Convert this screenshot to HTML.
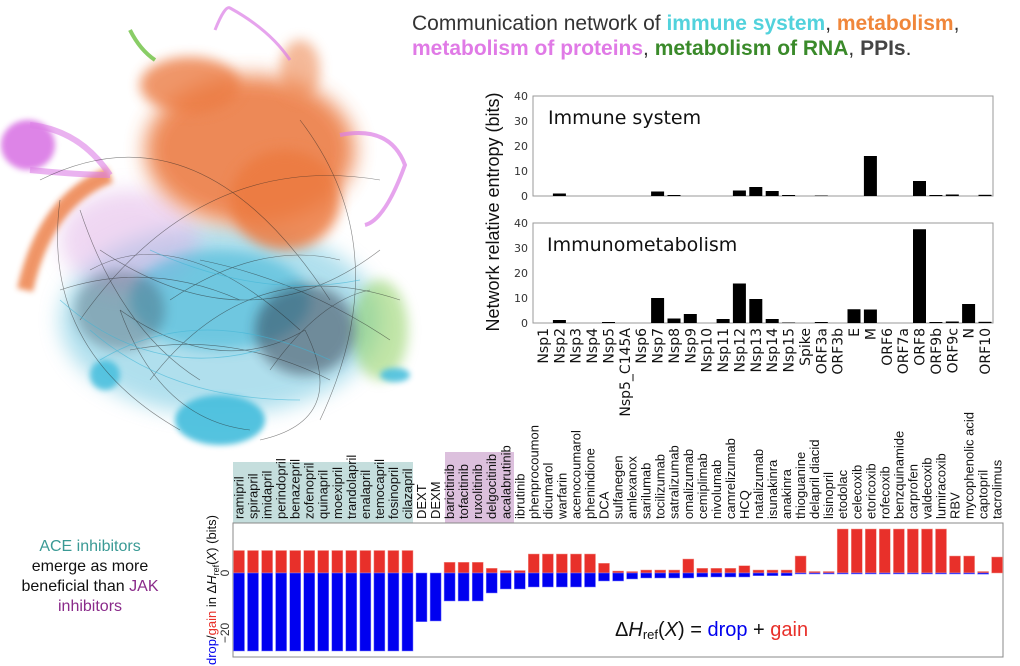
<!DOCTYPE html>
<html><head><meta charset="utf-8"><style>
html,body{margin:0;padding:0;background:#fff;}
body{width:1020px;height:666px;overflow:hidden;position:relative;font-family:"Liberation Sans",sans-serif;}
</style></head><body>
<svg width="1020" height="666" viewBox="0 0 1020 666" xmlns="http://www.w3.org/2000/svg" style="position:absolute;left:0;top:0">
<defs>
<filter id="b6" x="-50%" y="-50%" width="200%" height="200%"><feGaussianBlur stdDeviation="6"/></filter>
<filter id="b3" x="-50%" y="-50%" width="200%" height="200%"><feGaussianBlur stdDeviation="3"/></filter>
<filter id="b12" x="-50%" y="-50%" width="200%" height="200%"><feGaussianBlur stdDeviation="10"/></filter>
</defs>
<!-- network -->
<g>
<ellipse cx="220" cy="320" rx="160" ry="95" fill="#7ccbe2" opacity="0.6" filter="url(#b12)"/>
<ellipse cx="130" cy="240" rx="70" ry="50" fill="#e0b0e6" opacity="0.5" filter="url(#b12)"/>
<ellipse cx="250" cy="150" rx="105" ry="75" fill="#ec7d45" opacity="0.9" filter="url(#b12)"/>
<ellipse cx="190" cy="85" rx="50" ry="28" fill="#ec7d45" opacity="0.8" filter="url(#b6)"/>
<ellipse cx="285" cy="200" rx="55" ry="50" fill="#ec7a40" opacity="0.85" filter="url(#b6)"/>
<ellipse cx="300" cy="70" rx="20" ry="30" fill="#ee8a55" opacity="0.6" filter="url(#b6)"/>
<path d="M25 290 Q45 200 110 175" stroke="#ec7a40" stroke-width="16" fill="none" opacity="0.8" filter="url(#b3)"/>
<ellipse cx="28" cy="145" rx="27" ry="25" fill="#dc7ee6" opacity="0.95" filter="url(#b3)"/>
<path d="M30 125 Q80 130 110 175 M30 170 Q80 175 110 175" stroke="#dc7ee6" stroke-width="6" fill="none" opacity="0.6"/>
<path d="M340 135 Q390 125 405 165 Q385 220 365 225" stroke="#dc7ee6" stroke-width="4" fill="none" opacity="0.7"/>
<path d="M215 30 Q225 5 230 8 Q270 30 290 60" stroke="#dc7ee6" stroke-width="3" fill="none" opacity="0.7"/>
<path d="M130 30 Q140 50 155 60" stroke="#6cc040" stroke-width="4" fill="none" opacity="0.8"/>
<ellipse cx="380" cy="330" rx="28" ry="50" fill="#8fd060" opacity="0.55" filter="url(#b6)"/>
<ellipse cx="220" cy="300" rx="90" ry="50" fill="#45b8d8" opacity="0.6" filter="url(#b6)"/>
<ellipse cx="220" cy="420" rx="45" ry="25" fill="#4cc0de" opacity="0.95" filter="url(#b3)"/>
<ellipse cx="105" cy="375" rx="15" ry="15" fill="#4cc0de" opacity="0.9" filter="url(#b3)"/>
<ellipse cx="395" cy="375" rx="15" ry="7" fill="#4cc0de" opacity="0.9" filter="url(#b3)"/>
<ellipse cx="120" cy="310" rx="45" ry="40" fill="#3a4a5a" opacity="0.35" filter="url(#b6)"/>
<ellipse cx="305" cy="330" rx="50" ry="45" fill="#202838" opacity="0.45" filter="url(#b6)"/>
<g stroke="#222" stroke-width="0.6" fill="none" opacity="0.55">
<path d="M40 180 Q200 100 330 300"/><path d="M80 320 Q200 150 380 180"/><path d="M100 250 Q250 350 380 250"/><path d="M120 310 Q220 380 305 330"/><path d="M60 200 Q40 350 180 430"/><path d="M300 120 Q400 250 320 420"/><path d="M150 380 Q250 250 400 300"/>
<path d="M90 270 Q180 220 300 330"/><path d="M120 310 Q160 420 250 430"/><path d="M305 330 Q350 420 260 440"/><path d="M60 290 Q150 260 240 300"/><path d="M200 260 Q300 280 390 340"/><path d="M130 350 Q230 330 330 380"/><path d="M170 300 Q260 240 340 260"/><path d="M80 210 Q120 330 200 380"/><path d="M270 370 Q320 300 370 290"/>
</g>
<g stroke="#3fb5d6" stroke-width="0.8" fill="none" opacity="0.6">
<path d="M60 300 Q150 380 260 350"/><path d="M100 360 Q200 300 330 360"/><path d="M150 250 Q260 300 360 280"/><path d="M90 330 Q170 400 300 400"/>
</g>
</g>
<!-- title -->
<text x="412" y="30" font-size="21" fill="#333">Communication network of <tspan fill="#52d2dc" font-weight="bold">immune system</tspan>, <tspan fill="#f0863a" font-weight="bold">metabolism</tspan>,</text>
<text x="412" y="55" font-size="21" fill="#333"><tspan fill="#e07ae6" font-weight="bold">metabolism of proteins</tspan>, <tspan fill="#3a8a2a" font-weight="bold">metabolism of RNA</tspan>, <tspan font-weight="bold" fill="#444">PPIs</tspan>.</text>

<!-- top chart -->
<g font-family="DejaVu Sans, sans-serif">
<rect x="533" y="96" width="460" height="100" fill="none" stroke="#999"/>
<rect x="533" y="223" width="460" height="100" fill="none" stroke="#999"/>
<g font-size="11" fill="#333" text-anchor="end">
<text x="528" y="100">40</text><text x="528" y="125">30</text><text x="528" y="150">20</text><text x="528" y="175">10</text><text x="528" y="200">0</text>
<text x="528" y="227">40</text><text x="528" y="252">30</text><text x="528" y="277">20</text><text x="528" y="302">10</text><text x="528" y="327">0</text>
</g>
<text x="548" y="124" font-size="19" fill="#111">Immune system</text>
<text x="547" y="251" font-size="19" fill="#111">Immunometabolism</text>
<text transform="translate(499,212) rotate(-90)" font-family="Liberation Sans, sans-serif" font-size="18" text-anchor="middle" fill="#111">Network relative entropy (bits)</text>
<g fill="#000">
<rect x="552.9" y="193.5" width="13" height="2.5"/>
<rect x="651.1" y="191.5" width="13" height="4.5"/>
<rect x="667.5" y="195" width="13" height="1"/>
<rect x="732.9" y="190.5" width="13" height="5.5"/>
<rect x="749.3" y="187" width="13" height="9"/>
<rect x="765.7" y="191" width="13" height="5"/>
<rect x="782.1" y="195" width="13" height="1"/>
<rect x="814.8" y="195.5" width="13" height="0.5"/>
<rect x="863.9" y="156" width="13" height="40"/>
<rect x="913" y="181" width="13" height="15"/>
<rect x="929.4" y="195" width="13" height="1"/>
<rect x="945.8" y="194.5" width="13" height="1.5"/>
<rect x="978.5" y="194.8" width="13" height="1.2"/>

<rect x="552.9" y="320" width="13" height="3"/>
<rect x="602" y="322" width="13" height="1"/>
<rect x="651.1" y="298" width="13" height="25"/>
<rect x="667.5" y="318.5" width="13" height="4.5"/>
<rect x="683.8" y="314" width="13" height="9"/>
<rect x="716.6" y="319" width="13" height="4"/>
<rect x="732.9" y="283.5" width="13" height="39.5"/>
<rect x="749.3" y="299" width="13" height="24"/>
<rect x="765.7" y="319" width="13" height="4"/>
<rect x="782.1" y="322.5" width="13" height="0.5"/>
<rect x="814.8" y="322" width="13" height="1"/>
<rect x="847.5" y="309.25" width="13" height="13.75"/>
<rect x="863.9" y="309.5" width="13" height="13.5"/>
<rect x="913" y="229.25" width="13" height="93.75"/>
<rect x="929.4" y="322" width="13" height="1"/>
<rect x="945.8" y="321.5" width="13" height="1.5"/>
<rect x="962.1" y="304" width="13" height="19"/>
<rect x="978.5" y="321.8" width="13" height="1.2"/>
</g>
<g font-size="14" fill="#111" text-anchor="end">
<text transform="translate(548,328) rotate(-90)">Nsp1</text>
<text transform="translate(564.4,328) rotate(-90)">Nsp2</text>
<text transform="translate(580.7,328) rotate(-90)">Nsp3</text>
<text transform="translate(597.1,328) rotate(-90)">Nsp4</text>
<text transform="translate(613.5,328) rotate(-90)">Nsp5</text>
<text transform="translate(629.9,328) rotate(-90)">Nsp5_C145A</text>
<text transform="translate(646.2,328) rotate(-90)">Nsp6</text>
<text transform="translate(662.6,328) rotate(-90)">Nsp7</text>
<text transform="translate(679,328) rotate(-90)">Nsp8</text>
<text transform="translate(695.3,328) rotate(-90)">Nsp9</text>
<text transform="translate(711.7,328) rotate(-90)">Nsp10</text>
<text transform="translate(728.1,328) rotate(-90)">Nsp11</text>
<text transform="translate(744.4,328) rotate(-90)">Nsp12</text>
<text transform="translate(760.8,328) rotate(-90)">Nsp13</text>
<text transform="translate(777.2,328) rotate(-90)">Nsp14</text>
<text transform="translate(793.6,328) rotate(-90)">Nsp15</text>
<text transform="translate(809.9,328) rotate(-90)">Spike</text>
<text transform="translate(826.3,328) rotate(-90)">ORF3a</text>
<text transform="translate(842.7,328) rotate(-90)">ORF3b</text>
<text transform="translate(859,328) rotate(-90)">E</text>
<text transform="translate(875.4,328) rotate(-90)">M</text>
<text transform="translate(891.8,328) rotate(-90)">ORF6</text>
<text transform="translate(908.1,328) rotate(-90)">ORF7a</text>
<text transform="translate(924.5,328) rotate(-90)">ORF8</text>
<text transform="translate(940.9,328) rotate(-90)">ORF9b</text>
<text transform="translate(957.3,328) rotate(-90)">ORF9c</text>
<text transform="translate(973.6,328) rotate(-90)">N</text>
<text transform="translate(990,328) rotate(-90)">ORF10</text>
</g>
</g>

<!-- left annotation -->
<g font-size="16" text-anchor="middle">
<text x="90" y="551" fill="#3a9a95">ACE inhibitors</text>
<text x="90" y="571" fill="#111">emerge as more</text>
<text x="90" y="591" fill="#111">beneficial than <tspan fill="#8a2a8a">JAK</tspan></text>
<text x="90" y="611" fill="#8a2a8a">inhibitors</text>
</g>

<!-- bottom chart -->
<rect x="233" y="462" width="180" height="61" fill="#c5dedd"/>
<rect x="445" y="452" width="69" height="71" fill="#dcc0dd"/>
<rect x="233" y="523" width="770" height="134" fill="none" stroke="#888"/>
<g font-size="12" fill="#333" text-anchor="middle">
<text transform="translate(229,573) rotate(-90)">0</text>
<text transform="translate(229,633) rotate(-90)">−20</text>
</g>
<text transform="translate(216,590) rotate(-90)" font-size="13" text-anchor="middle" fill="#111"><tspan fill="#0000ee">drop</tspan>/<tspan fill="#e8302a">gain</tspan> in Δ<tspan font-style="italic">H</tspan><tspan font-size="9" dy="3">ref</tspan><tspan dy="-3">(</tspan><tspan font-style="italic">X</tspan>) (bits)</text>
<g fill="#e8302a" stroke="#f29a90" stroke-width="0.5">
<rect x="233.5" y="550.5" width="11" height="22.5"/><rect x="247.5" y="550.5" width="11" height="22.5"/><rect x="261.6" y="550.5" width="11" height="22.5"/><rect x="275.6" y="550.5" width="11" height="22.5"/><rect x="289.7" y="550.5" width="11" height="22.5"/><rect x="303.7" y="550.5" width="11" height="22.5"/><rect x="317.7" y="550.5" width="11" height="22.5"/><rect x="331.8" y="550.5" width="11" height="22.5"/><rect x="345.8" y="550.5" width="11" height="22.5"/><rect x="359.9" y="550.5" width="11" height="22.5"/><rect x="373.9" y="550.5" width="11" height="22.5"/><rect x="387.9" y="550.5" width="11" height="22.5"/><rect x="402" y="550.5" width="11" height="22.5"/>
<rect x="444.1" y="562.3" width="11" height="10.7"/><rect x="458.1" y="562.3" width="11" height="10.7"/><rect x="472.2" y="562.3" width="11" height="10.7"/>
<rect x="486.2" y="568.3" width="11" height="4.7"/><rect x="500.3" y="570.5" width="11" height="2.5"/><rect x="514.3" y="570.5" width="11" height="2.5"/>
<rect x="528.3" y="554" width="11" height="19"/><rect x="542.4" y="554" width="11" height="19"/><rect x="556.4" y="554" width="11" height="19"/><rect x="570.5" y="554" width="11" height="19"/><rect x="584.5" y="554" width="11" height="19"/>
<rect x="598.5" y="563.3" width="11" height="9.7"/>
<rect x="612.6" y="571" width="11" height="2"/><rect x="626.6" y="571.5" width="11" height="1.5"/>
<rect x="640.7" y="570" width="11" height="3"/><rect x="654.7" y="570" width="11" height="3"/><rect x="668.7" y="570" width="11" height="3"/>
<rect x="682.8" y="559" width="11" height="14"/>
<rect x="696.8" y="568.3" width="11" height="4.7"/><rect x="710.9" y="568.3" width="11" height="4.7"/><rect x="724.9" y="568.3" width="11" height="4.7"/>
<rect x="738.9" y="565.7" width="11" height="7.3"/>
<rect x="753" y="570" width="11" height="3"/><rect x="767" y="570" width="11" height="3"/><rect x="781.1" y="570" width="11" height="3"/>
<rect x="795.1" y="556" width="11" height="17"/>
<rect x="809.1" y="571.5" width="11" height="1.5"/><rect x="823.2" y="571.5" width="11" height="1.5"/>
<rect x="837.2" y="529" width="11" height="44"/><rect x="851.3" y="529" width="11" height="44"/><rect x="865.3" y="529" width="11" height="44"/><rect x="879.3" y="529" width="11" height="44"/><rect x="893.4" y="529" width="11" height="44"/><rect x="907.4" y="529" width="11" height="44"/><rect x="921.5" y="529" width="11" height="44"/><rect x="935.5" y="529" width="11" height="44"/>
<rect x="949.5" y="556" width="11" height="17"/><rect x="963.6" y="556" width="11" height="17"/>
<rect x="977.6" y="571.5" width="11" height="1.5"/>
<rect x="991.6" y="557" width="11" height="16"/>
</g>
<g fill="#0000f0" stroke="#8080ff" stroke-width="0.5">
<rect x="233.5" y="573" width="11" height="78"/><rect x="247.5" y="573" width="11" height="78"/><rect x="261.6" y="573" width="11" height="78"/><rect x="275.6" y="573" width="11" height="78"/><rect x="289.7" y="573" width="11" height="78"/><rect x="303.7" y="573" width="11" height="78"/><rect x="317.7" y="573" width="11" height="78"/><rect x="331.8" y="573" width="11" height="78"/><rect x="345.8" y="573" width="11" height="78"/><rect x="359.9" y="573" width="11" height="78"/><rect x="373.9" y="573" width="11" height="78"/><rect x="387.9" y="573" width="11" height="78"/><rect x="402" y="573" width="11" height="78"/>
<rect x="416" y="573" width="11" height="48.7"/><rect x="430.1" y="573" width="11" height="48"/>
<rect x="444.1" y="573" width="11" height="28"/><rect x="458.1" y="573" width="11" height="28"/><rect x="472.2" y="573" width="11" height="28"/>
<rect x="486.2" y="573" width="11" height="20"/><rect x="500.3" y="573" width="11" height="16"/><rect x="514.3" y="573" width="11" height="16"/>
<rect x="528.3" y="573" width="11" height="14"/><rect x="542.4" y="573" width="11" height="14"/><rect x="556.4" y="573" width="11" height="14"/><rect x="570.5" y="573" width="11" height="14"/><rect x="584.5" y="573" width="11" height="14"/>
<rect x="598.5" y="573" width="11" height="8"/>
<rect x="612.6" y="573" width="11" height="8"/><rect x="626.6" y="573" width="11" height="6"/>
<rect x="640.7" y="573" width="11" height="5"/><rect x="654.7" y="573" width="11" height="5"/><rect x="668.7" y="573" width="11" height="5"/><rect x="682.8" y="573" width="11" height="5"/>
<rect x="696.8" y="573" width="11" height="4"/><rect x="710.9" y="573" width="11" height="4"/><rect x="724.9" y="573" width="11" height="4"/><rect x="738.9" y="573" width="11" height="4"/>
<rect x="753" y="573" width="11" height="2.7"/><rect x="767" y="573" width="11" height="2.7"/><rect x="781.1" y="573" width="11" height="2.7"/>
<rect x="795.1" y="573" width="11" height="1"/><rect x="809.1" y="573" width="11" height="1"/><rect x="823.2" y="573" width="11" height="1"/>
<rect x="837.2" y="573" width="11" height="1"/><rect x="851.3" y="573" width="11" height="1"/><rect x="865.3" y="573" width="11" height="1"/><rect x="879.3" y="573" width="11" height="1"/><rect x="893.4" y="573" width="11" height="1"/><rect x="907.4" y="573" width="11" height="1"/><rect x="921.5" y="573" width="11" height="1"/><rect x="935.5" y="573" width="11" height="1"/>
<rect x="949.5" y="573" width="11" height="1"/><rect x="963.6" y="573" width="11" height="1"/><rect x="977.6" y="573" width="11" height="1.2"/>
</g>
<text x="615" y="636" font-size="20" fill="#111">Δ<tspan font-style="italic">H</tspan><tspan font-size="13" dy="3">ref</tspan><tspan dy="-3">(</tspan><tspan font-style="italic">X</tspan>) = <tspan fill="#0000ee">drop</tspan> + <tspan fill="#e8302a">gain</tspan></text>
<g font-size="13" fill="#111">
<text transform="translate(243.5,519) rotate(-90)">ramipril</text>
<text transform="translate(257.5,519) rotate(-90)">spirapril</text>
<text transform="translate(271.6,519) rotate(-90)">imidapril</text>
<text transform="translate(285.6,519) rotate(-90)">perindopril</text>
<text transform="translate(299.7,519) rotate(-90)">benazepril</text>
<text transform="translate(313.7,519) rotate(-90)">zofenopril</text>
<text transform="translate(327.7,519) rotate(-90)">quinapril</text>
<text transform="translate(341.8,519) rotate(-90)">moexipril</text>
<text transform="translate(355.8,519) rotate(-90)">trandolapril</text>
<text transform="translate(369.9,519) rotate(-90)">enalapril</text>
<text transform="translate(383.9,519) rotate(-90)">temocapril</text>
<text transform="translate(397.9,519) rotate(-90)">fosinopril</text>
<text transform="translate(412,519) rotate(-90)">cilazapril</text>
<text transform="translate(426,519) rotate(-90)">DEXT</text>
<text transform="translate(440.1,519) rotate(-90)">DEXM</text>
<text transform="translate(454.1,519) rotate(-90)">baricitinib</text>
<text transform="translate(468.1,519) rotate(-90)">tofacitinib</text>
<text transform="translate(482.2,519) rotate(-90)">ruxolitinib</text>
<text transform="translate(496.2,519) rotate(-90)">delgocitinib</text>
<text transform="translate(510.3,519) rotate(-90)">acalabrutinib</text>
<text transform="translate(524.3,519) rotate(-90)">ibrutinib</text>
<text transform="translate(538.3,519) rotate(-90)">phenprocoumon</text>
<text transform="translate(552.4,519) rotate(-90)">dicumarol</text>
<text transform="translate(566.4,519) rotate(-90)">warfarin</text>
<text transform="translate(580.5,519) rotate(-90)">acenocoumarol</text>
<text transform="translate(594.5,519) rotate(-90)">phenindione</text>
<text transform="translate(608.5,519) rotate(-90)">DCA</text>
<text transform="translate(622.6,519) rotate(-90)">sulfanegen</text>
<text transform="translate(636.6,519) rotate(-90)">amlexanox</text>
<text transform="translate(650.7,519) rotate(-90)">sarilumab</text>
<text transform="translate(664.7,519) rotate(-90)">tocilizumab</text>
<text transform="translate(678.7,519) rotate(-90)">satralizumab</text>
<text transform="translate(692.8,519) rotate(-90)">omalizumab</text>
<text transform="translate(706.8,519) rotate(-90)">cemiplimab</text>
<text transform="translate(720.9,519) rotate(-90)">nivolumab</text>
<text transform="translate(734.9,519) rotate(-90)">camrelizumab</text>
<text transform="translate(748.9,519) rotate(-90)">HCQ</text>
<text transform="translate(763,519) rotate(-90)">natalizumab</text>
<text transform="translate(777,519) rotate(-90)">isunakinra</text>
<text transform="translate(791.1,519) rotate(-90)">anakinra</text>
<text transform="translate(805.1,519) rotate(-90)">thioguanine</text>
<text transform="translate(819.1,519) rotate(-90)">delapril diacid</text>
<text transform="translate(833.2,519) rotate(-90)">lisinopril</text>
<text transform="translate(847.2,519) rotate(-90)">etodolac</text>
<text transform="translate(861.3,519) rotate(-90)">celecoxib</text>
<text transform="translate(875.3,519) rotate(-90)">etoricoxib</text>
<text transform="translate(889.3,519) rotate(-90)">rofecoxib</text>
<text transform="translate(903.4,519) rotate(-90)">benzquinamide</text>
<text transform="translate(917.4,519) rotate(-90)">carprofen</text>
<text transform="translate(931.5,519) rotate(-90)">valdecoxib</text>
<text transform="translate(945.5,519) rotate(-90)">lumiracoxib</text>
<text transform="translate(959.5,519) rotate(-90)">RBV</text>
<text transform="translate(973.6,519) rotate(-90)">mycophenolic acid</text>
<text transform="translate(987.6,519) rotate(-90)">captopril</text>
<text transform="translate(1001.6,519) rotate(-90)">tacrolimus</text>
</g>
</svg>
</body></html>
